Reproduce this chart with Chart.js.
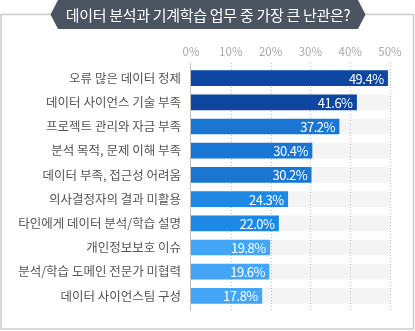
<!DOCTYPE html>
<html><head><meta charset="utf-8">
<script src="https://cdn.jsdelivr.net/npm/chart.js@4/dist/chart.umd.min.js"></script>
<style>html,body{margin:0;padding:0;background:#fff;overflow:hidden}</style>
</head><body>
<canvas id="c" width="415" height="331" style="display:block;width:415px;height:331px"></canvas>
<script>
const chartTitle = '데이터 분석과 기계학습 업무 중 가장 큰 난관은?';
const categories = [
  '오류 많은 데이터 정제',
  '데이터 사이언스 기술 부족',
  '프로젝트 관리와 자금 부족',
  '분석 목적, 문제 이해 부족',
  '데이터 부족, 접근성 어려움',
  '의사결정자의 결과 미활용',
  '타인에게 데이터 분석/학습 설명',
  '개인정보보호 이슈',
  '분석/학습 도메인 전문가 미협력',
  '데이터 사이언스팀 구성'
];
const values = [49.4, 41.6, 37.2, 30.4, 30.2, 24.3, 22.0, 19.8, 19.6, 17.8];
const tickValues = [0, 10, 20, 30, 40, 50];
const axisMax = 50;

const barColors = ['#0d47a1','#0d47a1','#1976d2','#1976d2','#1976d2','#1e88e5','#1e88e5','#42a5f5','#42a5f5','#42a5f5'];
const trackColor = '#f4f4f4';
const FONT = "'Noto Sans CJK KR', 'Noto Sans', sans-serif";
Chart.defaults.font.family = FONT;

const decorPlugin = {
  id: 'decor',
  beforeDraw(chart) {
    const ctx = chart.ctx;
    ctx.save();
    ctx.fillStyle = '#fff';
    ctx.fillRect(0, 0, chart.width, chart.height);
    ctx.strokeStyle = '#cccccc';
    ctx.lineWidth = 1.5;
    ctx.beginPath();
    ctx.moveTo(52, 14.5); ctx.lineTo(1, 14.5); ctx.lineTo(1, 329); ctx.lineTo(413.5, 329); ctx.lineTo(413.5, 14.5); ctx.lineTo(363, 14.5);
    ctx.stroke();
    ctx.fillStyle = '#4b5461';
    ctx.beginPath();
    ctx.moveTo(50.5, 14.5); ctx.lineTo(58, 0); ctx.lineTo(358, 0); ctx.lineTo(365.5, 14.5); ctx.lineTo(358, 29); ctx.lineTo(58, 29); ctx.closePath();
    ctx.fill();
    ctx.fillStyle = '#ffffff';
    ctx.font = '15px ' + FONT;
    ctx.textAlign = 'center';
    ctx.textBaseline = 'middle';
    try { ctx.letterSpacing = '-0.3px'; } catch (e) {}
    ctx.fillText(chartTitle, 208, 15);
    ctx.restore();
  },
  afterDatasetDraw(chart, args) {
    if (args.index !== 1) return;
    const ctx = chart.ctx, xs = chart.scales.x, area = chart.chartArea;
    ctx.save();
    ctx.strokeStyle = '#bdbdbd';
    ctx.lineWidth = 1;
    ctx.setLineDash([1, 2]);
    tickValues.forEach(v => {
      if (v === 0) return;
      const x = Math.round(xs.getPixelForValue(v)) + 0.5;
      ctx.beginPath(); ctx.moveTo(x, area.top - 3); ctx.lineTo(x, area.bottom + 3); ctx.stroke();
    });
    ctx.setLineDash([]);
    const x0 = Math.round(xs.getPixelForValue(0)) - 0.5;
    ctx.beginPath(); ctx.moveTo(x0, area.top - 3); ctx.lineTo(x0, area.bottom + 3); ctx.stroke();
    ctx.restore();
  },
  afterDatasetsDraw(chart) {
    const ctx = chart.ctx;
    const meta = chart.getDatasetMeta(0);
    ctx.save();
    ctx.fillStyle = '#ffffff';
    ctx.font = '13px ' + FONT;
    ctx.textAlign = 'right';
    ctx.textBaseline = 'middle';
    try { ctx.letterSpacing = '-0.5px'; } catch (e) {}
    meta.data.forEach((el, i) => {
      ctx.fillText(values[i].toFixed(1) + '%', el.x - 4, el.y + 0.5);
    });
    ctx.restore();
  }
};

new Chart(document.getElementById('c'), {
  type: 'bar',
  data: {
    labels: categories,
    datasets: [
      { data: values, backgroundColor: barColors, barThickness: 15, grouped: false, order: 1 },
      { data: categories.map(() => axisMax), backgroundColor: trackColor, barThickness: 15, grouped: false, order: 2 }
    ]
  },
  options: {
    indexAxis: 'y',
    responsive: false,
    animation: false,
    devicePixelRatio: 1,
    layout: { padding: { top: 40, right: 25, bottom: 23, left: 0 } },
    plugins: { legend: { display: false }, tooltip: { enabled: false }, title: { display: false } },
    scales: {
      x: {
        type: 'linear', position: 'top', min: 0, max: axisMax,
        afterBuildTicks: s => { s.ticks = tickValues.map(v => ({ value: v })); },
        ticks: { callback: v => v + '%', color: '#a8a8a8', font: { size: 11.5 }, padding: 7.5, maxRotation: 0 },
        grid: { display: false, drawTicks: false },
        border: { display: false },
        afterFit: s => { s.height = 26; }
      },
      y: {
        type: 'category',
        ticks: { color: '#555555', font: { size: 12.5 }, padding: 10, autoSkip: false },
        grid: { display: false, drawTicks: false },
        border: { display: false },
        afterFit: s => { s.width = 191; }
      }
    }
  },
  plugins: [decorPlugin]
});
</script>
</body></html>
